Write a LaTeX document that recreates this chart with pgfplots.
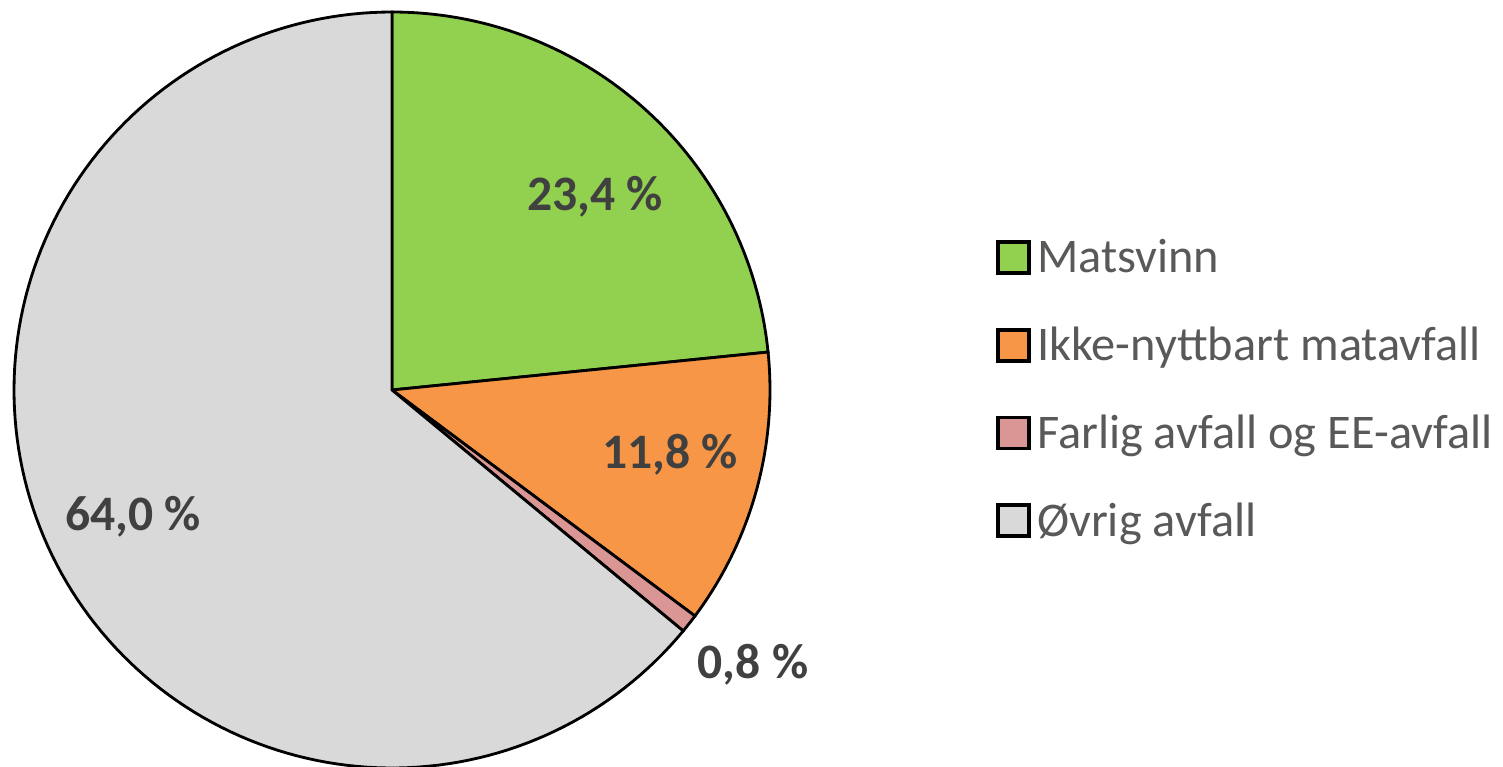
\documentclass[border=0pt]{standalone}
\usepackage{pgfplots}
\pgfplotsset{compat=1.18}
\usepackage{fontspec}
\setmainfont{Carlito}
\definecolor{cgreen}{HTML}{92D050}
\definecolor{corange}{HTML}{F79646}
\definecolor{cpink}{HTML}{DA9694}
\definecolor{cgray}{HTML}{D9D9D9}
\definecolor{lbl}{HTML}{404040}
\definecolor{leg}{HTML}{595959}
% shares in percent
\def\vA{23.4}\def\vB{11.8}\def\vC{0.8}\def\vD{64.0}
\pgfmathsetmacro{\aO}{90}
\pgfmathsetmacro{\aA}{\aO-3.6*\vA}
\pgfmathsetmacro{\aB}{\aA-3.6*\vB}
\pgfmathsetmacro{\aC}{\aB-3.6*\vC}
\pgfmathsetmacro{\aD}{\aC-3.6*\vD}
\def\cx{392}\def\cy{377}\def\R{378}
\begin{document}
\begin{tikzpicture}
\begin{axis}[
  x=0.01cm, y=0.01cm,
  xmin=0, xmax=1503, ymin=0, ymax=767,
  hide axis, clip=false,
  legend cell align=left,
  legend image code/.code={\draw[#1, draw=black, line width=1.1pt] (0cm,-0.12cm) rectangle (0.31cm,0.19cm);},
  legend style={at={(axis cs:985,536)}, anchor=north west, draw=none, fill=none,
    font=\fontsize{13.75pt}{16pt}\selectfont, text=leg,
    nodes={inner sep=0pt, text height=0.34cm, text depth=0.1cm},
    row sep=0.438cm, column sep=0.06cm},
]
\path (axis cs:0,0) rectangle (axis cs:1503,767);
\addplot[fill=cgreen, draw=black, line width=0.8pt, domain=\aA:\aO, samples=80, variable=\t]
  ({\cx+\R*cos(\t)},{\cy+\R*sin(\t)}) -- (axis cs:\cx,\cy) -- cycle;
\addlegendentry{Matsvinn}
\addplot[fill=corange, draw=black, line width=0.8pt, domain=\aB:\aA, samples=50, variable=\t]
  ({\cx+\R*cos(\t)},{\cy+\R*sin(\t)}) -- (axis cs:\cx,\cy) -- cycle;
\addlegendentry{Ikke-nyttbart matavfall}
\addplot[fill=cpink, draw=black, line width=0.8pt, domain=\aC:\aB, samples=5, variable=\t]
  ({\cx+\R*cos(\t)},{\cy+\R*sin(\t)}) -- (axis cs:\cx,\cy) -- cycle;
\addlegendentry{Farlig avfall og EE-avfall}
\addplot[fill=cgray, draw=black, line width=0.8pt, domain=\aD:\aC, samples=150, variable=\t]
  ({\cx+\R*cos(\t)},{\cy+\R*sin(\t)}) -- (axis cs:\cx,\cy) -- cycle;
\addlegendentry{Øvrig avfall}
\begin{scope}[every node/.style={font=\fontsize{14.1pt}{16pt}\selectfont\bfseries, text=lbl}]
\node at (axis cs:595,570) {23,4 \%};
\node at (axis cs:670,312) {11,8 \%};
\node at (axis cs:753,102) {0,8 \%};
\node at (axis cs:133,250) {64,0 \%};
\end{scope}
\end{axis}
\pgfresetboundingbox
\path (current axis.south west) rectangle (current axis.north east);
\end{tikzpicture}
\end{document}
